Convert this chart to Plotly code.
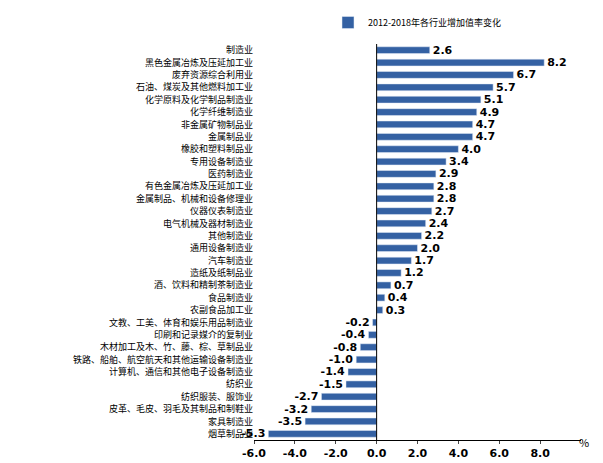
import plotly.graph_objects as go

categories = ["制造业","黑色金属冶炼及压延加工业","废弃资源综合利用业","石油、煤炭及其他燃料加工业","化学原料及化学制品制造业","化学纤维制造业","非金属矿物制品业","金属制品业","橡胶和塑料制品业","专用设备制造业","医药制造业","有色金属冶炼及压延加工业","金属制品、机械和设备修理业","仪器仪表制造业","电气机械及器材制造业","其他制造业","通用设备制造业","汽车制造业","造纸及纸制品业","酒、饮料和精制茶制造业","食品制造业","农副食品加工业","文教、工美、体育和娱乐用品制造业","印刷和记录媒介的复制业","木材加工及木、竹、藤、棕、草制品业","铁路、船舶、航空航天和其他运输设备制造业","计算机、通信和其他电子设备制造业","纺织业","纺织服装、服饰业","皮革、毛皮、羽毛及其制品和制鞋业","家具制造业","烟草制品业"]
values = [2.6,8.2,6.7,5.7,5.1,4.9,4.7,4.7,4.0,3.4,2.9,2.8,2.8,2.7,2.4,2.2,2.0,1.7,1.2,0.7,0.4,0.3,-0.2,-0.4,-0.8,-1.0,-1.4,-1.5,-2.7,-3.2,-3.5,-5.3]
tick_vals = [-6,-4,-2,0,2,4,6,8]
tick_text = ["-6.0","-4.0","-2.0","0.0","2.0","4.0","6.0","8.0"]

fig = go.Figure(go.Bar(
    y=categories, x=values, orientation="h", name="2012-2018年各行业增加值率变化",
    marker_color="#3461A3", width=0.55,
    text=[f"{v:.1f}" for v in values], textposition="outside", cliponaxis=False,
    textfont=dict(size=11, color="black", family="DejaVu Sans", weight="bold"),
))
fig.update_layout(
    width=603, height=463, margin=dict(l=246, r=30, t=36, b=31, autoexpand=False),
    plot_bgcolor="white", paper_bgcolor="white",
    font=dict(family="Noto Sans CJK SC", size=9, color="black"),
    showlegend=True,
    uniformtext=dict(minsize=11, mode="show"),
    legend=dict(orientation="h", x=0.5, xanchor="center", y=1.0, yref="container",
                yanchor="top", font=dict(size=9), itemwidth=30, bgcolor="rgba(0,0,0,0)"),
    xaxis=dict(range=[-6,10], tickvals=tick_vals, ticktext=tick_text, showgrid=False,
               zeroline=False, showline=True, linecolor="black", ticks="outside",
               tickfont=dict(size=11, family="DejaVu Sans", weight="bold"), ticklen=3),
    yaxis=dict(autorange="reversed", showgrid=False, zeroline=False, ticks="",
               tickfont=dict(size=9), automargin=False),
    annotations=[dict(text="%", x=1.03, xref="paper", y=-0.03, yref="paper",
                      showarrow=False, font=dict(size=11))],
)
fig.add_shape(type="line", x0=0, x1=0, y0=0, y1=1, xref="x", yref="paper",
              line=dict(color="black", width=1))
fig.write_html("out.html")
